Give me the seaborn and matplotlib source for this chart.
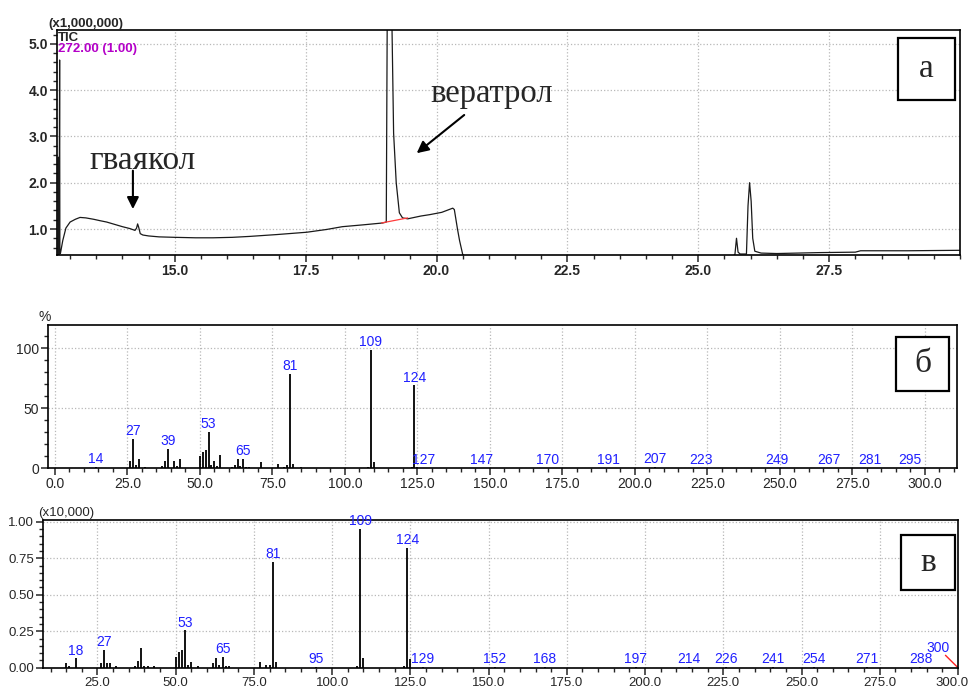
import matplotlib
matplotlib.use("Agg")
import matplotlib.pyplot as plt
from matplotlib.patches import Rectangle
from matplotlib.ticker import MultipleLocator, FormatStrFormatter
from matplotlib.transforms import ScaledTranslation
import pandas as pd
import seaborn as sns

# --- TIC chromatogram (intensity, x1,000,000) ---
rt_min = [12.70, 12.77, 12.775, 12.785, 12.79, 12.80, 12.805, 12.815, 12.86, 12.92,
          13.00, 13.10, 13.19, 13.30, 13.45, 13.57, 13.70, 13.85, 14.00, 14.14,
          14.24, 14.27, 14.29, 14.31, 14.34, 14.39, 14.50, 14.70, 15.00, 15.40,
          15.73, 16.10, 16.43, 16.95, 17.52, 17.90, 18.20, 18.60, 18.97, 19.04,
          19.06, 19.10, 19.15, 19.18, 19.23, 19.29, 19.35, 19.45, 19.70, 19.87,
          20.10, 20.31, 20.34, 20.40, 20.44, 20.50, 20.55, 25.65, 25.70, 25.73,
          25.76, 25.80, 25.92, 25.95, 25.98, 26.01, 26.04, 26.08, 26.20, 26.50,
          26.90, 27.30, 28.00, 28.10, 29.00, 30.00]
tic = [0.40, 0.40, 2.55, 0.45, 0.45, 4.65, 0.47, 0.47, 0.75, 1.02,
       1.15, 1.21, 1.25, 1.24, 1.21, 1.18, 1.15, 1.10, 1.05, 1.01,
       0.97, 1.02, 1.11, 1.04, 0.90, 0.87, 0.85, 0.83, 0.82, 0.81,
       0.81, 0.82, 0.84, 0.88, 0.93, 0.99, 1.05, 1.09, 1.13, 1.15,
       6.00, 6.20, 5.30, 3.07, 2.00, 1.35, 1.24, 1.22, 1.28, 1.31,
       1.36, 1.45, 1.42, 1.00, 0.75, 0.45, 0.40, 0.40, 0.45, 0.80,
       0.50, 0.46, 0.46, 1.50, 2.00, 1.60, 0.80, 0.52, 0.48, 0.47,
       0.48, 0.49, 0.50, 0.53, 0.53, 0.54]
base_rt = [18.95, 19.45]
base_tic = [1.13, 1.24]

# --- spectrum б (relative intensity, %) ---
mz_b = [14, 26, 27, 28, 29, 31, 37, 38, 39, 41, 42, 43, 50, 51, 52, 53, 54, 55, 56, 57,
        61, 62, 63, 64, 65, 66, 67, 71, 77, 79, 80, 81, 82, 85, 108, 109, 110, 123,
        124, 125, 127, 147, 170, 191, 207, 223, 249, 267, 281, 295]
rel_b = [1, 6.4, 24.4, 3, 8, 1, 2, 6, 16, 6, 2, 8, 10, 14, 15, 30.6, 3, 6, 2, 11,
         1, 3, 8, 2, 8, 1.5, 1, 5, 4, 1.5, 3, 78.6, 4, 1, 1.5, 98.6, 5.5, 1,
         69.1, 1.5, 0.5, 0.5, 0.5, 0.5, 1.5, 0.5, 0.5, 0.5, 0.5, 0.5]
labels_b = [14, 27, 39, 53, 65, 81, 109, 124, 127, 147, 170, 191, 207, 223, 249, 267, 281, 295]

# --- spectrum в (intensity, x10,000) ---
mz_v = [15, 16, 18, 26, 27, 28, 29, 31, 37, 38, 39, 40, 41, 43, 50, 51, 52, 53, 54, 55,
        57, 62, 63, 64, 65, 66, 67, 77, 79, 80, 81, 82, 95, 108, 109, 110, 123, 124,
        125, 129, 152, 168, 197, 214, 226, 241, 254, 271, 288]
abs_v = [0.03, 0.01, 0.064, 0.03, 0.12, 0.03, 0.03, 0.01, 0.01, 0.048, 0.132, 0.01, 0.015,
         0.015, 0.07, 0.107, 0.121, 0.256, 0.02, 0.04, 0.01, 0.03, 0.064, 0.02, 0.073,
         0.01, 0.01, 0.04, 0.02, 0.02, 0.726, 0.04, 0.004, 0.01, 0.95, 0.065, 0.01, 0.82,
         0.06, 0.004, 0.004, 0.004, 0.004, 0.004, 0.004, 0.004, 0.004, 0.004, 0.004]
labels_v = [18, 27, 53, 65, 81, 95, 109, 124, 129, 152, 168, 197, 214, 226, 241, 254, 271, 288]

sns.set_style("white")
plt.rcParams["font.family"] = ["Liberation Sans", "DejaVu Sans"]
plt.rcParams["axes.linewidth"] = 1.2

fig = plt.figure(figsize=(9.71, 6.89), dpi=100)
ax1 = fig.add_axes([0.0587, 0.630, 0.930, 0.3266])
ax2 = fig.add_axes([0.0497, 0.3203, 0.9355, 0.208])
ax3 = fig.add_axes([0.0446, 0.0309, 0.9420, 0.2144])

GRID = dict(ls=":", color="#b8b8b8", lw=0.9)


def style_axis(ax, size, weight):
    ax.grid(True, which="major", **GRID)
    ax.tick_params(which="major", direction="out", length=5, width=1.1,
                   labelsize=size, left=True, bottom=True, pad=1.5)
    ax.tick_params(which="minor", direction="out", length=3, width=1.0,
                   left=True, bottom=True)
    for lab in ax.get_xticklabels() + ax.get_yticklabels():
        lab.set_fontweight(weight)
    for sp in ax.spines.values():
        sp.set_color("black")


# а — chromatogram
df_tic = pd.DataFrame({"rt": rt_min, "tic": tic})
sns.lineplot(data=df_tic, x="rt", y="tic", ax=ax1, color="#1a1a1a", lw=0.9,
             estimator=None, sort=False)
ax1.plot(base_rt, base_tic, color="#ff3b3b", lw=0.9)
ax1.set_xlim(12.75, 30.0)
ax1.set_ylim(0.44, 5.3)
ax1.xaxis.set_major_locator(MultipleLocator(2.5))
ax1.xaxis.set_minor_locator(MultipleLocator(0.5))
ax1.yaxis.set_major_locator(MultipleLocator(1.0))
ax1.yaxis.set_minor_locator(MultipleLocator(0.2))
ax1.xaxis.set_major_formatter(FormatStrFormatter("%.1f"))
ax1.yaxis.set_major_formatter(FormatStrFormatter("%.1f"))
ax1.set_xlabel("")
ax1.set_ylabel("")
style_axis(ax1, 10, "bold")
ax1.set_xticks([15.0, 17.5, 20.0, 22.5, 25.0, 27.5])
ax1.set_yticks([1.0, 2.0, 3.0, 4.0, 5.0])
for lab in ax1.get_xticklabels() + ax1.get_yticklabels():
    lab.set_fontweight("bold")

serif = ["Liberation Serif", "DejaVu Serif"]
ax1.annotate("", xy=(14.2, 1.37), xytext=(14.2, 2.32),
             arrowprops=dict(arrowstyle="-|>,head_length=0.7,head_width=0.35",
                             color="black", lw=1.5))
ax1.text(14.39, 2.48, "гваякол", family=serif, fontsize=24, ha="center", va="center")
ax1.annotate("", xy=(19.58, 2.6), xytext=(20.57, 3.5),
             arrowprops=dict(arrowstyle="-|>,head_length=0.7,head_width=0.35",
                             color="black", lw=1.5))
ax1.text(21.05, 3.92, "вератрол", family=serif, fontsize=23.5, ha="center", va="center")

fig.text(0.0494, 0.9608, "(x1,000,000)", fontsize=9.5, fontweight="bold", va="baseline")
fig.text(0.0597, 0.9455, "TIC", fontsize=9.5, fontweight="bold", va="center")
fig.text(0.0597, 0.9289, "272.00 (1.00)", fontsize=9.5, fontweight="bold",
         color="#b400c8", va="center")


def sticks(ax, mz, inten, labels):
    ax.vlines(mz, 0, inten, color="black", lw=1.3)
    lookup = dict(zip(mz, inten))
    for m in labels:
        ax.annotate(str(m), (m, lookup[m]), xytext=(0, 0.5), textcoords="offset points",
                    ha="center", va="bottom", color="#1f1fff", fontsize=10)


# б — relative spectrum
sticks(ax2, mz_b, rel_b, labels_b)
ax2.set_xlim(-2.3, 311)
ax2.set_ylim(0, 119.5)
ax2.xaxis.set_major_locator(MultipleLocator(25))
ax2.xaxis.set_minor_locator(MultipleLocator(5))
ax2.yaxis.set_major_locator(MultipleLocator(50))
ax2.yaxis.set_minor_locator(MultipleLocator(10))
ax2.xaxis.set_major_formatter(FormatStrFormatter("%.1f"))
ax2.yaxis.set_major_formatter(FormatStrFormatter("%d"))
style_axis(ax2, 10, "normal")
fig.text(0.0463, 0.5399, "%", fontsize=10, ha="center", va="center")

# в — absolute spectrum
sticks(ax3, mz_v, abs_v, labels_v)
ax3.plot([296, 300], [0.085, 0.0], color="#ff2020", lw=1.0)
ax3.text(293.5, 0.09, "300", color="#1f1fff", fontsize=10, ha="center", va="bottom")
ax3.set_xlim(7.7, 300)
ax3.set_ylim(0, 1.012)
ax3.set_xticks([25, 50, 75, 100, 125, 150, 175, 200, 225, 250, 275, 300])
ax3.xaxis.set_minor_locator(MultipleLocator(5))
ax3.yaxis.set_major_locator(MultipleLocator(0.25))
ax3.yaxis.set_minor_locator(MultipleLocator(0.05))
ax3.xaxis.set_major_formatter(FormatStrFormatter("%.1f"))
ax3.yaxis.set_major_formatter(FormatStrFormatter("%.2f"))
style_axis(ax3, 9.5, "normal")
# last label sits on the figure edge; nudge it inside
last = ax3.get_xticklabels()[-1]
last.set_transform(last.get_transform() + ScaledTranslation(-6 / 100, 0, fig.dpi_scale_trans))
fig.text(0.0391, 0.2554, "(x10,000)", fontsize=9.5, va="center")

# panel letters in boxes
for x0, y0, w, h, letter in [(0.9248, 0.855, 0.0587, 0.09, "а"),
                             (0.9228, 0.4325, 0.0546, 0.0784, "б"),
                             (0.9279, 0.1437, 0.0556, 0.0798, "в")]:
    fig.add_artist(Rectangle((x0, y0), w, h, transform=fig.transFigure,
                             fill=True, fc="white", ec="black", lw=1.6))
    fig.text(x0 + w / 2, y0 + h / 2, letter, family=serif, fontsize=24,
             ha="center", va="center")

fig.savefig("out.png", dpi=100)
